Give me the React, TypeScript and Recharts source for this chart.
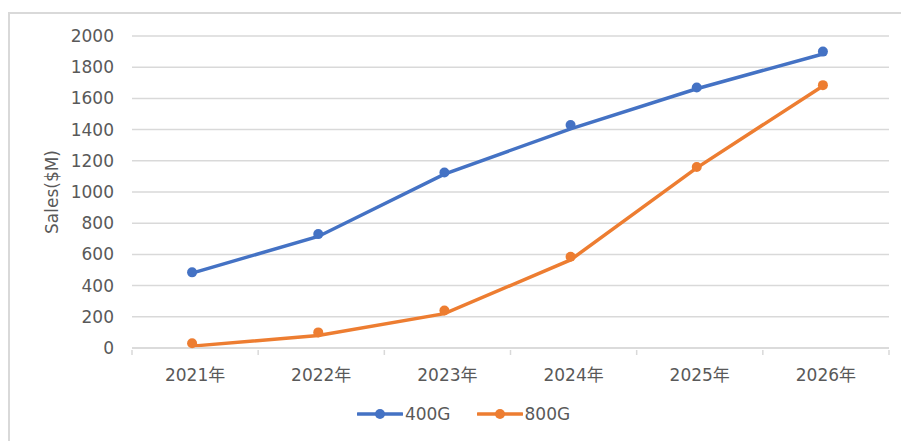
import { CartesianGrid, Line, LineChart, XAxis, YAxis } from 'recharts';

const categories = ['2021年', '2022年', '2023年', '2024年', '2025年', '2026年'];
// marker positions and the (slightly offset) connecting line
const points400 = [485, 730, 1125, 1430, 1670, 1900];
const line400 = [480, 715, 1115, 1405, 1662, 1885];
const points800 = [30, 100, 240, 585, 1160, 1685];
const line800 = [12, 80, 220, 565, 1155, 1680];
const yTicks = [0, 200, 400, 600, 800, 1000, 1200, 1400, 1600, 1800, 2000];
const seriesNames = ['400G', '800G'];

const BLUE = '#4472C4';
const ORANGE = '#ED7D31';
const TEXT = '#595959';
const GRID = '#d9d9d9';
const FONT = '"DejaVu Sans", "Noto Sans CJK SC", sans-serif';

const W = 901;
const H = 441;
const X_AXIS_H = 40;
const M = { top: 36, right: 12, bottom: 93 - X_AXIS_H, left: 0 };
const Y_AXIS_W = 132;
const BAND = (W - M.left - M.right - Y_AXIS_W) / categories.length;
// the points sit a little left of the band centres in the original
const SHIFT = 3;

const data = categories.map((c, i) => ({
  year: c,
  p400: points400[i],
  l400: line400[i],
  p800: points800[i],
  l800: line800[i],
}));

const XTick = ({ x, y, payload, index }: any) => {
  const cx = x + SHIFT;
  return (
    <g>
      <line x1={cx - BAND / 2} x2={cx - BAND / 2} y1={y} y2={y + 5} stroke={GRID} strokeWidth={1.5} />
      {index === categories.length - 1 && (
        <line x1={cx + BAND / 2} x2={cx + BAND / 2} y1={y} y2={y + 5} stroke={GRID} strokeWidth={1.5} />
      )}
      <text x={cx} y={y + 31} textAnchor="middle" fill={TEXT} fontSize={17} fontFamily={FONT}>
        {payload.value}
      </text>
    </g>
  );
};

const YLabel = () => (
  <text
    x={58}
    y={192}
    transform="rotate(-90 58 192)"
    textAnchor="middle"
    fill={TEXT}
    fontSize={17}
    fontFamily={FONT}
  >
    Sales($M)
  </text>
);

function ChartLegend() {
  const colors = [BLUE, ORANGE];
  return (
    <div
      style={{
        position: 'absolute',
        top: 404,
        left: 13,
        width: W,
        display: 'flex',
        justifyContent: 'center',
        gap: 26,
        fontFamily: FONT,
        fontSize: 17,
        color: TEXT,
      }}
    >
      {seriesNames.map((name, i) => (
        <div key={name} style={{ display: 'flex', alignItems: 'center' }}>
          <svg width={46} height={12} style={{ marginRight: 2 }}>
            <line x1={1} x2={45} y1={6} y2={6} stroke={colors[i]} strokeWidth={3.5} strokeLinecap="round" />
            <circle cx={23} cy={6} r={5} fill={colors[i]} />
          </svg>
          <span>{name}</span>
        </div>
      ))}
    </div>
  );
}

export default function App() {
  return (
    <div style={{ position: 'absolute', left: 0, top: 0, width: W, height: H, background: '#fff' }}>
      <div
        style={{
          position: 'absolute',
          left: 8,
          top: 12,
          right: 0,
          bottom: 0,
          borderTop: `2px solid ${GRID}`,
          borderLeft: `2px solid ${GRID}`,
        }}
      />
      <div style={{ position: 'absolute', left: 0, top: 0 }}>
        <LineChart width={W} height={H} data={data} margin={M}>
          <CartesianGrid vertical={false} stroke={GRID} strokeWidth={1.5} />
          <XAxis
            dataKey="year"
            height={X_AXIS_H}
            stroke={GRID}
            strokeWidth={1.5}
            tickLine={false}
            tickSize={0}
            tick={<XTick />}
            interval={0}
            padding={{ left: BAND / 2 - SHIFT, right: BAND / 2 + SHIFT }}
          />
          <YAxis
            width={Y_AXIS_W}
            domain={[0, 2000]}
            ticks={yTicks}
            axisLine={false}
            tickLine={false}
            tickSize={0}
            tickMargin={18}
            tick={{ fill: TEXT, fontSize: 17, fontFamily: FONT }}
            label={YLabel}
          />
          <Line dataKey="l400" stroke={BLUE} strokeWidth={3.5} dot={false} isAnimationActive={false} />
          <Line dataKey="l800" stroke={ORANGE} strokeWidth={3.5} dot={false} isAnimationActive={false} />
          <Line
            dataKey="p400"
            name={seriesNames[0]}
            stroke="none"
            dot={{ r: 5, fill: BLUE, stroke: BLUE, strokeWidth: 0 }}
            activeDot={false}
            isAnimationActive={false}
          />
          <Line
            dataKey="p800"
            name={seriesNames[1]}
            stroke="none"
            dot={{ r: 5, fill: ORANGE, stroke: ORANGE, strokeWidth: 0 }}
            activeDot={false}
            isAnimationActive={false}
          />
        </LineChart>
      </div>
      <ChartLegend />
    </div>
  );
}
